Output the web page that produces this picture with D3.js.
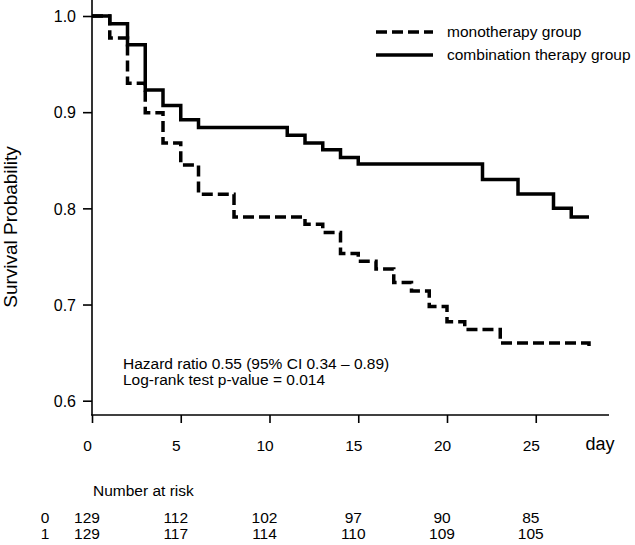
<!DOCTYPE html>
<html><head><meta charset="utf-8">
<script src="https://cdn.jsdelivr.net/npm/d3@7"></script>
<style>
html,body{margin:0;padding:0;background:#fff;}
text{font-family:"Liberation Sans",Arial,sans-serif;fill:#000;}
</style></head>
<body><svg id="c" width="635" height="545"></svg>
<script>
// ---- data ----
const monoTimes = [0,1,2,3,4,5,6,8,12,13,14,15,16,17,18,19,20,21,23,28];
const monoSurv  = [1.0,0.977,0.930,0.8995,0.868,0.845,0.8147,0.791,0.7835,0.775,0.753,0.745,0.737,0.723,0.714,0.698,0.682,0.674,0.660,0.653];
const combTimes = [0,1,2,3,4,5,6,11,12,13,14,15,22,24,26,27,28];
const combSurv  = [1.0,0.992,0.970,0.923,0.907,0.892,0.884,0.876,0.868,0.861,0.853,0.846,0.830,0.815,0.800,0.791,0.791];
const xTicks = [0,5,10,15,20,25];
const yTicks = [0.6,0.7,0.8,0.9,1.0];
const riskTimes = [0,5,10,15,20,25];
const riskGroup0 = [129,112,102,97,90,85];
const riskGroup1 = [129,117,114,110,109,105];
const seriesNames = ["monotherapy group","combination therapy group"];
const annotations = ["Hazard ratio 0.55 (95% CI 0.34 \u2013 0.89)","Log-rank test p-value = 0.014"];

const svg = d3.select("#c");
const x = d3.scaleLinear().domain([0,25]).range([92,535.75]);
const y = d3.scaleLinear().domain([0.6,1.0]).range([400.7,16]);
const axisY0 = 415, axisTop = 0, axisRight = 609;

// axes lines
svg.append("line").attr("x1",92).attr("x2",92).attr("y1",axisTop).attr("y2",axisY0)
  .attr("stroke","#000").attr("stroke-width",1.6);
svg.append("line").attr("x1",91).attr("x2",axisRight).attr("y1",axisY0).attr("y2",axisY0)
  .attr("stroke","#000").attr("stroke-width",1.6);

// x axis
const gx = svg.append("g").attr("transform",`translate(0,${axisY0})`)
  .call(d3.axisBottom(x).tickValues(xTicks).tickSize(8).tickSizeOuter(0).tickFormat(d3.format("d")));
gx.select(".domain").remove();
gx.selectAll(".tick line").attr("stroke","#000").attr("stroke-width",1.6);
gx.selectAll(".tick text").attr("y",0).attr("dy",0).attr("x",-5)
  .attr("transform","translate(0,36)").style("font-size","15.5px").style("font-family",'"Liberation Sans",Arial,sans-serif');

// y axis
const gy = svg.append("g").attr("transform","translate(92,0)")
  .call(d3.axisLeft(y).tickValues(yTicks).tickSize(9).tickSizeOuter(0).tickFormat(d3.format(".1f")));
gy.select(".domain").remove();
gy.selectAll(".tick line").attr("stroke","#000").attr("stroke-width",1.6);
gy.selectAll(".tick text").attr("x",-16).attr("dy","0.36em")
  .style("font-size","16px").style("font-family",'"Liberation Sans",Arial,sans-serif');

// axis titles
svg.append("text").attr("x",600).attr("y",450).attr("text-anchor","middle")
  .style("font-size","18px").text("day");
svg.append("text").attr("transform","translate(17,227) rotate(-90)").attr("text-anchor","middle")
  .style("font-size","19px").text("Survival Probability");

// curves
const line = d3.line().x(d=>x(d[0])).y(d=>y(d[1])).curve(d3.curveStepAfter);
const monoPts = monoTimes.map((t,i)=>[t,monoSurv[i]]);
const combPts = combTimes.map((t,i)=>[t,combSurv[i]]);
svg.append("path").attr("d",line(combPts)).attr("fill","none").attr("stroke","#000")
  .attr("stroke-width",3.5);
svg.append("path").attr("d",line(monoPts)).attr("fill","none").attr("stroke","#000")
  .attr("stroke-width",3.5).attr("stroke-dasharray","11,5");

// legend
const leg = [{name:seriesNames[0],dash:"11,5",y:32},{name:seriesNames[1],dash:null,y:55}];
leg.forEach(l=>{
  svg.append("line").attr("x1",376).attr("x2",433).attr("y1",l.y).attr("y2",l.y)
    .attr("stroke","#000").attr("stroke-width",3.5).attr("stroke-dasharray",l.dash);
  svg.append("text").attr("x",447).attr("y",l.y).attr("dy","0.35em")
    .style("font-size","15.5px").text(l.name);
});

// annotations
annotations.forEach((a,i)=>{
  svg.append("text").attr("x",123).attr("y",369+i*15.5).style("font-size","15.5px").text(a);
});

// risk table
svg.append("text").attr("x",93).attr("y",495.5).style("font-size","15.5px").text("Number at risk");
[riskGroup0,riskGroup1].forEach((g,gi)=>{
  const yy = 523 + gi*15.6;
  svg.append("text").attr("x",45).attr("y",yy).attr("text-anchor","middle").style("font-size","15.5px").text(String(gi));
  g.forEach((v,i)=>{
    svg.append("text").attr("x",x(riskTimes[i])-5).attr("y",yy).attr("text-anchor","middle")
      .style("font-size","15.5px").text(v);
  });
});
</script></body></html>
